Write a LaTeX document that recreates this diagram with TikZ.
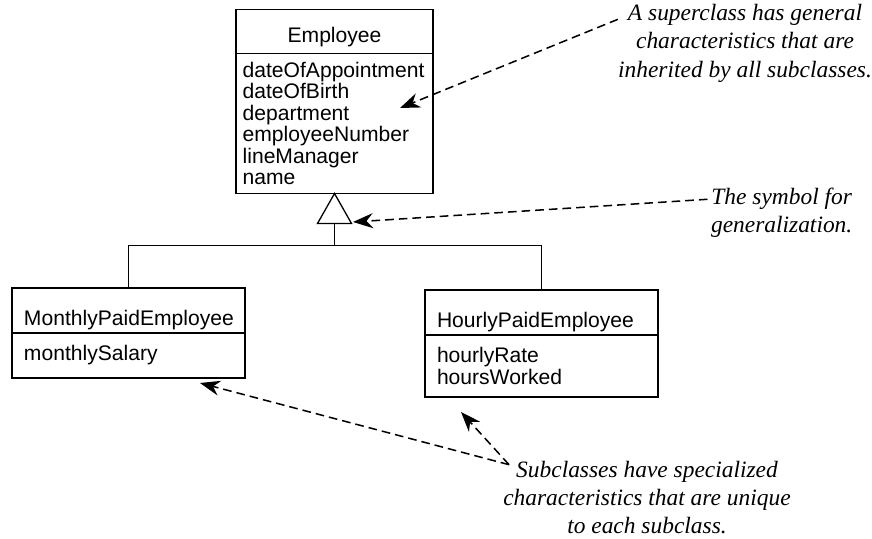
\documentclass[tikz,border=0pt]{standalone}
\usepackage{fontspec}
\setmainfont{Liberation Serif}
\newfontfamily\umlfont{Liberation Sans}
\usepackage{tikz}
\usetikzlibrary{positioning}
\usetikzlibrary{arrows.meta}

\begin{document}
\begin{tikzpicture}[
        clase/.style={draw, line width=1.1pt, outer sep=0pt, inner ysep=0pt,
            font=\umlfont\fontsize{18}{18.4}\selectfont},
        titulo/.style={clase, inner xsep=0.36cm, text width=6.27cm, align=left,
            text height=1.14cm, text depth=0.21cm},
        atributos/.style={clase, inner xsep=0.36cm, text width=6.27cm, align=left},
        nota/.style={align=center, inner sep=0pt, font=\itshape\fontsize{20}{24}\selectfont},
        flecha/.style={line width=1.3pt, dash pattern=on 0.26cm off 0.15cm,
            -{Stealth[length=0.6cm, width=0.45cm]}}
    ]
        \useasboundingbox (0,0) rectangle (26.16,16.17);

        % Superclase
        \node[clase, minimum width=5.91cm, text height=0.99cm, text depth=0.33cm] (emp) at (10.035,15.225) {Employee};
        \node[clase, below=0pt of emp, inner xsep=0.2cm, text width=5.51cm, align=left,
            minimum height=4.2cm] (empattr)
            {dateOfAppointment\\dateOfBirth\\department\\employeeNumber\\lineManager\\name};

        % Subclases
        \node[titulo, anchor=north] (mensual) at (3.855,7.53) {MonthlyPaidEmployee};
        \node[atributos, below=0pt of mensual, minimum height=1.35cm] (mensualattr) {monthlySalary};

        \node[titulo, anchor=north] (horario) at (16.245,7.47) {HourlyPaidEmployee};
        \node[atributos, below=0pt of horario, minimum height=1.86cm] (horarioattr) {hourlyRate\\hoursWorked};

        % Simbolo de generalizacion
        \draw[line width=1.1pt, fill=white] (empattr.south) -- ++(-0.51,-0.9) -- ++(1.02,0) -- cycle;
        \path (empattr.south) ++(0,-0.9) coordinate (base) ++(0,-0.66) coordinate (bus);
        \draw[line width=1.1pt] (base) -- (bus);
        \draw[line width=1.1pt] (mensual.north) |- (bus) -| (horario.north);

        % Notas
        \node[nota] (supnota) at (22.35,14.87) {A superclass has general\\characteristics that are\\inherited by all subclasses.};
        \node[nota] (gennota) at (23.45,9.8) {The symbol for\\generalization.};
        \node[nota] (subnota) at (19.41,1.25) {Subclasses have specialized\\characteristics that are unique\\to each subclass.};

        % Flechas de las notas
        \coordinate (suppunta) at (12.0,12.93);
        \coordinate (genpunta) at (10.59,9.51);
        \coordinate (mensualpunta) at (6.0,4.68);
        \coordinate (horariopunta) at (13.83,3.81);
        \coordinate (subdesde) at ([xshift=0.18cm,yshift=-0.12cm]subnota.north west);

        \draw[flecha] ([yshift=-0.45cm]supnota.north west) -- (suppunta);
        \draw[flecha] ([xshift=-0.1cm,yshift=-0.36cm]gennota.north west) -- (genpunta);
        \draw[flecha] (subdesde) -- (mensualpunta);
        \draw[flecha] (subdesde) -- (horariopunta);
    \end{tikzpicture}
\end{document}
